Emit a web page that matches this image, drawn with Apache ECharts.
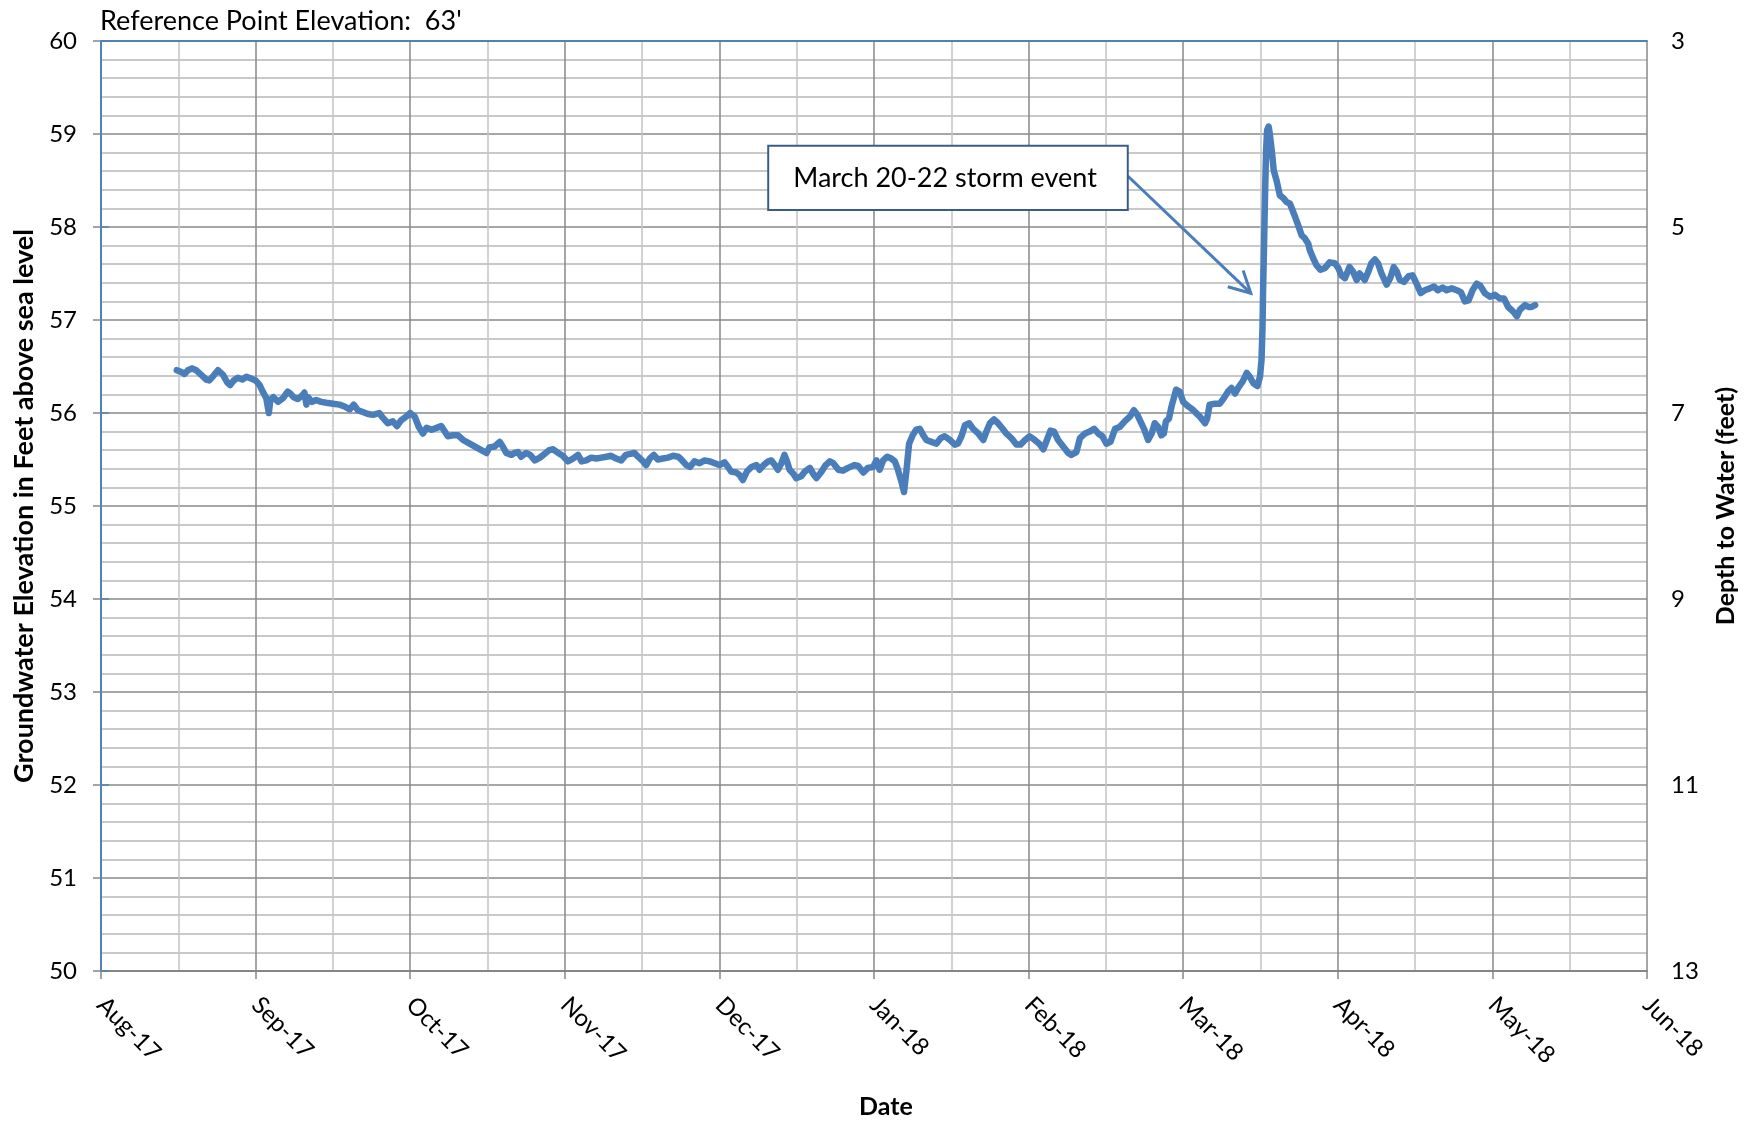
<!DOCTYPE html>
<html><head><meta charset="utf-8">
<script src="https://cdn.jsdelivr.net/npm/echarts@6/dist/echarts.min.js"></script>
<style>html,body{margin:0;padding:0;background:#fff}#c{width:1752px;height:1124px}</style>
</head><body><div id="c"></div>
<script>
// ---- data ----
const monthLabels = ['Aug-17','Sep-17','Oct-17','Nov-17','Dec-17','Jan-18','Feb-18','Mar-18','Apr-18','May-18','Jun-18'];
const DAYS_PER_MONTH = 30.4; // equal month spacing on the date axis
const elevationRange = [50, 60];
const depthRange = [3, 13];
const referenceNote = "Reference Point Elevation:  63'";
// [days since 1 Aug 2017, groundwater elevation (ft)]
const readings = [
[14.9,56.46],[15.8,56.44],[16.4,56.42],[17.1,56.46],[17.9,56.48],[18.7,56.46],[19.7,56.41],[20.7,56.36],[21.3,56.35],[22.1,56.40],
[23.0,56.46],[23.4,56.44],[24.0,56.41],[24.8,56.33],[25.4,56.30],[26.1,56.35],[26.9,56.38],[27.8,56.36],[28.6,56.39],[29.5,56.37],
[30.4,56.35],[31.2,56.30],[31.8,56.23],[32.5,56.16],[33.0,56.00],[33.3,56.14],[33.9,56.17],[34.8,56.12],[35.8,56.16],[36.7,56.23],
[37.2,56.21],[37.9,56.17],[38.7,56.15],[39.6,56.19],[40.0,56.22],[40.4,56.09],[40.7,56.17],[41.5,56.12],[42.3,56.14],[43.3,56.12],
[44.3,56.11],[45.6,56.10],[46.9,56.09],[47.9,56.07],[48.9,56.04],[49.7,56.09],[50.5,56.03],[51.5,56.01],[52.5,55.99],[53.5,55.98],
[54.7,56.00],[55.4,55.95],[56.4,55.89],[57.4,55.91],[58.2,55.86],[59.0,55.92],[60.0,55.96],[60.8,56.00],[61.7,55.96],[62.5,55.85],
[63.3,55.78],[64.0,55.84],[65.0,55.82],[66.0,55.84],[66.9,55.86],[67.6,55.80],[68.2,55.75],[69.2,55.76],[70.2,55.76],[71.2,55.71],
[72.5,55.67],[73.8,55.63],[74.8,55.60],[75.8,55.57],[76.4,55.63],[77.4,55.64],[78.4,55.69],[79.0,55.64],[79.7,55.57],[80.7,55.55],
[81.3,55.57],[82.0,55.58],[82.6,55.53],[83.6,55.57],[84.4,55.55],[85.3,55.49],[86.3,55.52],[87.2,55.56],[88.1,55.60],[88.9,55.61],
[89.9,55.57],[90.8,55.54],[91.8,55.48],[92.8,55.51],[93.8,55.55],[94.5,55.48],[95.4,55.49],[96.4,55.52],[97.4,55.51],[98.4,55.52],
[99.4,55.53],[100.3,55.54],[101.3,55.51],[102.3,55.49],[103.2,55.55],[104.1,55.56],[104.9,55.57],[105.6,55.53],[106.6,55.48],[107.2,55.44],
[107.9,55.51],[108.7,55.55],[109.5,55.50],[110.5,55.51],[111.5,55.52],[112.5,55.54],[113.5,55.53],[114.1,55.50],[115.1,55.44],[115.8,55.42],
[116.7,55.48],[117.7,55.46],[118.7,55.49],[119.7,55.48],[120.7,55.46],[121.7,55.44],[122.6,55.47],[123.3,55.42],[123.9,55.37],[124.9,55.36],
[125.6,55.33],[126.2,55.28],[127.0,55.37],[127.9,55.42],[128.9,55.44],[129.5,55.39],[130.3,55.44],[131.2,55.48],[131.8,55.49],[132.5,55.44],
[133.1,55.39],[133.8,55.46],[134.4,55.55],[134.9,55.48],[135.4,55.39],[136.1,55.35],[136.7,55.30],[137.7,55.32],[138.4,55.37],[139.4,55.41],
[140.1,55.34],[140.7,55.30],[141.7,55.37],[142.5,55.44],[143.3,55.48],[144.0,55.46],[145.0,55.39],[145.9,55.38],[146.9,55.41],[148.2,55.44],
[148.9,55.43],[149.9,55.36],[150.8,55.41],[151.8,55.42],[152.5,55.49],[153.1,55.39],[153.8,55.49],[154.6,55.53],[155.4,55.51],[156.1,55.48],
[156.7,55.39],[157.4,55.26],[157.9,55.15],[158.4,55.39],[158.9,55.67],[159.6,55.76],[160.3,55.82],[161.0,55.83],[161.7,55.76],[162.3,55.71],
[163.3,55.69],[164.3,55.67],[165.1,55.73],[165.9,55.75],[166.9,55.71],[167.9,55.66],[168.5,55.67],[169.2,55.75],[169.9,55.87],[170.7,55.89],
[171.5,55.83],[172.5,55.78],[173.5,55.71],[174.1,55.80],[174.8,55.89],[175.6,55.93],[176.4,55.89],[177.3,55.83],[178.0,55.78],[179.0,55.73],
[180.0,55.66],[180.8,55.66],[181.7,55.71],[182.6,55.75],[183.6,55.71],[184.5,55.67],[185.3,55.61],[186.0,55.71],[186.7,55.81],[187.4,55.80],
[188.2,55.71],[189.2,55.64],[190.2,55.57],[190.8,55.55],[191.8,55.58],[192.5,55.73],[193.5,55.78],[194.4,55.80],[195.3,55.83],[196.1,55.78],
[196.9,55.75],[197.7,55.67],[198.5,55.69],[199.4,55.83],[200.3,55.85],[201.3,55.91],[202.3,55.96],[203.1,56.03],[203.8,55.98],[204.3,55.92],
[205.1,55.83],[205.9,55.71],[206.6,55.78],[207.2,55.89],[207.9,55.85],[208.5,55.76],[209.0,55.78],[209.4,55.91],[210.0,55.94],[210.5,56.07],
[211.4,56.25],[212.1,56.23],[212.8,56.12],[213.8,56.07],[214.8,56.03],[215.7,55.98],[216.1,55.96],[217.1,55.89],[217.5,55.94],[218.0,56.09],
[219.0,56.10],[220.0,56.10],[220.8,56.16],[221.6,56.23],[222.3,56.27],[223.0,56.21],[223.6,56.27],[224.5,56.34],[225.3,56.43],[225.9,56.39],
[226.6,56.32],[227.4,56.29],[227.9,56.39],[228.2,56.57],[228.4,56.93],[228.5,57.29],[228.7,57.82],[228.9,58.36],[229.1,58.83],[229.3,59.04],
[229.6,59.08],[229.8,59.01],[230.2,58.83],[230.6,58.61],[231.2,58.49],[231.8,58.34],[232.5,58.31],[233.1,58.27],[233.8,58.25],[234.3,58.18],
[234.8,58.11],[235.4,58.02],[236.1,57.91],[236.7,57.88],[237.4,57.82],[237.7,57.75],[238.4,57.66],[239.0,57.59],[239.8,57.54],[240.7,57.56],
[241.6,57.62],[242.6,57.61],[243.3,57.56],[243.9,57.48],[244.6,57.45],[245.5,57.57],[246.2,57.52],[246.9,57.43],[247.5,57.50],[248.5,57.43],
[249.2,57.52],[249.8,57.61],[250.5,57.65],[251.1,57.61],[251.8,57.50],[252.8,57.38],[253.5,57.45],[254.2,57.57],[254.8,57.52],[255.4,57.43],
[256.2,57.41],[257.1,57.47],[257.9,57.48],[258.7,57.39],[259.5,57.29],[260.3,57.32],[261.3,57.34],[262.1,57.36],[262.9,57.32],[263.8,57.35],
[264.6,57.32],[265.6,57.34],[266.6,57.32],[267.4,57.30],[268.2,57.20],[268.9,57.21],[269.7,57.32],[270.5,57.39],[271.2,57.37],[272.1,57.29],
[273.1,57.25],[274.1,57.27],[275.1,57.23],[275.9,57.23],[276.7,57.14],[277.7,57.09],[278.4,57.04],[279.0,57.11],[280.0,57.16],[280.7,57.14],
[281.3,57.14],[282.0,57.16]
];
const annotationText = 'March 20-22 storm event';
const annotationBox = [[131.2, 58.874], [201.9, 58.183]];   // [days, elev] corners
const annotationArrow = [[201.9, 58.548], [226.1, 57.287]]; // [days, elev] start -> tip

// ---- chart ----
const FONT = 'Lato, "Open Sans", sans-serif';
const BLUE = '#4a7ebb';
const chart = echarts.init(document.getElementById('c'), null, {renderer: 'canvas'});
const toX = d => d / DAYS_PER_MONTH;

const option = {
  animation: false,
  backgroundColor: '#fff',
  title: {
    text: referenceNote, left: 95, top: 3,
    textStyle: {fontFamily: FONT, fontSize: 27, fontWeight: 'normal', color: '#000'}
  },
  grid: {left: 101, right: 105, top: 41, bottom: 153, containLabel: false, outerBoundsMode: 'none'},
  xAxis: [{
    type: 'value', min: 0, max: monthLabels.length - 1, interval: 1,
    name: 'Date', nameLocation: 'middle', nameGap: 123,
    nameTextStyle: {fontFamily: FONT, fontSize: 25, fontWeight: 'bold', color: '#000', padding: [0, 0, 0, 24]},
    axisLine: {show: true, lineStyle: {color: '#868686', width: 2}},
    axisTick: {show: true, length: 8, lineStyle: {color: '#868686', width: 1.5}},
    axisLabel: {
      rotate: -45, margin: 30, fontFamily: FONT, fontSize: 24, color: '#000',
      formatter: v => monthLabels[Math.round(v)] || ''
    },
    splitLine: {show: true, lineStyle: {color: '#888888', width: 1.5}},
    minorTick: {show: false, splitNumber: 2},
    minorSplitLine: {show: true, lineStyle: {color: '#c4c4c4', width: 1.5}}
  }, {
    type: 'value', position: 'top', min: 0, max: monthLabels.length - 1,
    axisLine: {show: true, lineStyle: {color: '#4f81bd', width: 2}},
    axisTick: {show: false}, axisLabel: {show: false}, splitLine: {show: false}
  }],
  yAxis: [{
    type: 'value', min: elevationRange[0], max: elevationRange[1], interval: 1,
    name: 'Groundwater Elevation in Feet above sea level', nameLocation: 'middle', nameGap: 62, nameRotate: 90,
    nameTextStyle: {fontFamily: FONT, fontSize: 27, fontWeight: 'bold', color: '#000'},
    axisLine: {show: true, lineStyle: {color: '#8a9bb8', width: 1.5}},
    axisTick: {show: true, length: 8, lineStyle: {color: '#868686', width: 1.5}},
    axisLabel: {margin: 24, fontFamily: FONT, fontSize: 24, color: '#000'},
    splitLine: {show: true, lineStyle: {color: '#888888', width: 1.5}},
    minorTick: {show: false, splitNumber: 5},
    minorSplitLine: {show: true, lineStyle: {color: '#b8b8b8', width: 1.5}}
  }, {
    type: 'value', position: 'right', min: depthRange[0], max: depthRange[1], interval: 2, inverse: true,
    name: 'Depth to Water (feet)', nameLocation: 'middle', nameGap: 66, nameRotate: 90,
    nameTextStyle: {fontFamily: FONT, fontSize: 25, fontWeight: 'bold', color: '#000'},
    axisLine: {show: true, lineStyle: {color: '#4f81bd', width: 2}},
    axisTick: {show: true, length: 8, lineStyle: {color: '#4f81bd', width: 1.5}},
    axisLabel: {margin: 24, fontFamily: FONT, fontSize: 24, color: '#000'},
    splitLine: {show: false}
  }],
  series: [{
    type: 'line', xAxisIndex: 0, yAxisIndex: 0,
    data: readings.map(r => [toX(r[0]), r[1]]),
    showSymbol: false, symbol: 'none', smooth: false,
    lineStyle: {color: BLUE, width: 6.5, cap: 'round', join: 'round'},
    z: 5
  }]
};
chart.setOption(option);

// annotation anchored in data coordinates
const px = p => chart.convertToPixel({xAxisIndex: 0, yAxisIndex: 0}, [toX(p[0]), p[1]]);
const b0 = px(annotationBox[0]), b1 = px(annotationBox[1]);
const a0 = px(annotationArrow[0]), a1 = px(annotationArrow[1]);
const ang = Math.atan2(a1[1] - a0[1], a1[0] - a0[0]);
const headLen = 24, headAng = Math.PI / 6.5;
const h1 = [a1[0] - headLen * Math.cos(ang - headAng), a1[1] - headLen * Math.sin(ang - headAng)];
const h2 = [a1[0] - headLen * Math.cos(ang + headAng), a1[1] - headLen * Math.sin(ang + headAng)];
chart.setOption({
  graphic: [
    {type: 'polyline', z: 10, shape: {points: [a0, a1]}, style: {stroke: BLUE, lineWidth: 3, fill: null}},
    {type: 'polyline', z: 10, shape: {points: [h1, a1, h2]}, style: {stroke: BLUE, lineWidth: 3, fill: null, lineJoin: 'miter'}},
    {type: 'rect', z: 11, shape: {x: b0[0], y: b0[1], width: b1[0] - b0[0], height: b1[1] - b0[1]},
     style: {fill: '#fff', stroke: '#385d8a', lineWidth: 2}},
    {type: 'text', z: 12, x: b0[0] + 25, y: (b0[1] + b1[1]) / 2,
     style: {text: annotationText, fontFamily: FONT, fontSize: 27, fill: '#000', verticalAlign: 'middle', align: 'left'}}
  ]
});
</script>
</body></html>
